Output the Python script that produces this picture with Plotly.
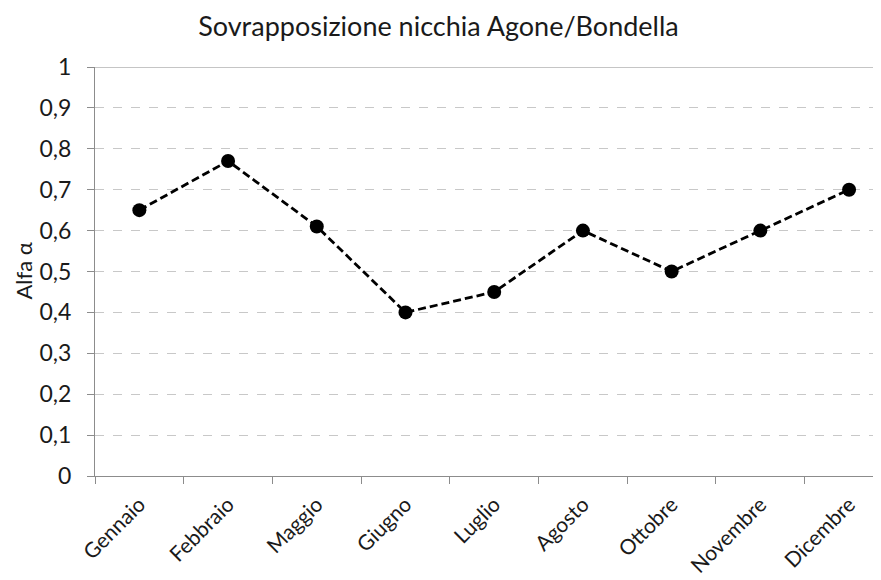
import plotly.graph_objects as go

mesi = ["Gennaio", "Febbraio", "Maggio", "Giugno", "Luglio", "Agosto", "Ottobre", "Novembre", "Dicembre"]
alfa = [0.65, 0.77, 0.61, 0.40, 0.45, 0.60, 0.50, 0.60, 0.70]
yticks = [0, 0.1, 0.2, 0.3, 0.4, 0.5, 0.6, 0.7, 0.8, 0.9, 1]
ytick_labels = ["0", "0,1", "0,2", "0,3", "0,4", "0,5", "0,6", "0,7", "0,8", "0,9", "1"]

FONT = "Lato"
TXT = "#1a1a1a"

fig = go.Figure()
fig.add_trace(go.Scatter(
    x=mesi, y=alfa, mode="lines+markers",
    line=dict(color="black", width=2.8, dash="8px,4px"),
    marker=dict(color="black", size=14),
    showlegend=False,
))

fig.add_shape(type="line", xref="paper", yref="y", x0=0, x1=1, y0=1, y1=1,
              line=dict(color="#8c8c8c", width=1))

fig.add_annotation(text="Alfa α", xref="paper", yref="paper", x=0, y=0.5,
                   xanchor="center", yanchor="middle",
                   xshift=-72, textangle=-90, showarrow=False,
                   font=dict(family=FONT, size=22, color=TXT))

fig.update_layout(
    width=881, height=580,
    margin=dict(l=87, r=8, t=59, b=112, autoexpand=False),
    paper_bgcolor="white", plot_bgcolor="white",
    title=dict(text="Sovrapposizione nicchia Agone/Bondella", x=430.5/881, xanchor="center",
               xref="container", y=1 - 19/580, yanchor="middle",
               font=dict(family=FONT, size=27, color=TXT)),
    font=dict(family=FONT, color=TXT),
)
fig.update_xaxes(
    type="category", range=[-0.5, 8.36], automargin=False,
    tickangle=-45, tickfont=dict(size=21, color=TXT), ticklabelstandoff=7,
    tickson="boundaries", ticks="outside", ticklen=7, tickcolor="#8c8c8c",
    showline=True, linecolor="#8c8c8c", linewidth=1,
    showgrid=False, zeroline=False,
)
fig.update_yaxes(
    range=[0, 1], tickvals=yticks, ticktext=ytick_labels, automargin=False,
    tickfont=dict(size=23, color=TXT), ticklabelstandoff=11,
    ticks="outside", ticklen=7, tickcolor="#8c8c8c",
    showline=True, linecolor="#8c8c8c", linewidth=1,
    showgrid=True, gridcolor="#c8c8c8", griddash="dash", gridwidth=1,
    zeroline=False,
)

fig.write_html("out.html")
